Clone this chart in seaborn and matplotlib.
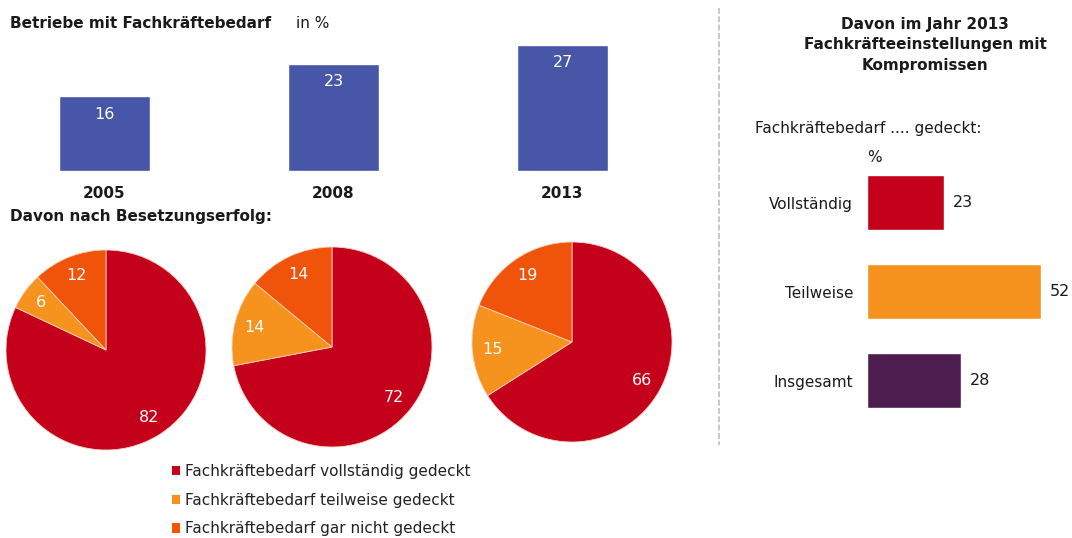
import matplotlib
matplotlib.use("Agg")
import matplotlib.pyplot as plt
import seaborn as sns
import pandas as pd
from matplotlib.patches import Patch
from matplotlib.lines import Line2D

# ---------------- data ----------------
years = ["2005", "2008", "2013"]
betriebe_pct = [16, 23, 27]

pie_labels = ["Fachkräftebedarf vollständig gedeckt",
              "Fachkräftebedarf teilweise gedeckt",
              "Fachkräftebedarf gar nicht gedeckt"]
pie_2005 = [82, 6, 12]
pie_2008 = [72, 14, 14]
pie_2013 = [66, 15, 19]

komp_cats = ["Vollständig", "Teilweise", "Insgesamt"]
komp_vals = [23, 52, 28]

# ---------------- style ----------------
BLUE = "#4756A6"
RED = "#C4001A"
ORANGE = "#F6921E"
DARKOR = "#F0530A"
PURPLE = "#4D1D50"
TXT = "#1a1a1a"
FS = 11

sns.set_theme(style="white")
plt.rcParams["font.family"] = ["DejaVu Sans"]
plt.rcParams["text.color"] = TXT

W, H = 1072, 538
fig = plt.figure(figsize=(W / 100, H / 100), dpi=100)


def px_axes(x0, y0, x1, y1):
    return fig.add_axes([x0 / W, 1 - y1 / H, (x1 - x0) / W, (y1 - y0) / H])


# ---------------- top bars ----------------
ax = px_axes(0, 30, 718, 171)
df_b = pd.DataFrame({"Jahr": years, "Wert": betriebe_pct})
sns.barplot(data=df_b, x="Jahr", y="Wert", color=BLUE, saturation=1,
            width=91 / 229, ax=ax)
ax.set_xlim(-104.5 / 229, (718 - 104.5) / 229)
ax.set_ylim(0, 141 / 4.67)
for s in ax.spines.values():
    s.set_visible(False)
ax.set_yticks([])
ax.set_xlabel("")
ax.set_ylabel("")
ax.tick_params(axis="x", length=0, pad=11, labelsize=FS, labelcolor=TXT)
for lab in ax.get_xticklabels():
    lab.set_fontweight("bold")
for p, v in zip(ax.patches, betriebe_pct):
    ax.annotate(f"{v}", (p.get_x() + p.get_width() / 2, p.get_height()),
                xytext=(0, -18), textcoords="offset pixels",
                ha="center", va="center", color="white", fontsize=11.5)

fig.text(10 / W, 1 - 23 / H, "Betriebe mit Fachkräftebedarf", fontsize=FS,
         fontweight="bold", va="center", ha="left")
fig.text(296 / W, 1 - 23 / H, "in %", fontsize=FS, va="center", ha="left")
fig.text(10 / W, 1 - 217 / H, "Davon nach Besetzungserfolg:", fontsize=FS,
         fontweight="bold", va="center", ha="left")

# ---------------- pies ----------------
pie_colors = [RED, ORANGE, DARKOR]
centers = [(106, 350), (332, 347), (572, 342)]
for (cx, cy), vals in zip(centers, [pie_2005, pie_2008, pie_2013]):
    r = 100
    pa = px_axes(cx - r, cy - r, cx + r, cy + r)
    pa.pie(vals, colors=pie_colors, startangle=90, counterclock=False,
           autopct="%.0f", pctdistance=0.8, radius=1,
           wedgeprops=dict(linewidth=0.6, edgecolor="#f3d0c0"),
           textprops=dict(color="white", fontsize=11.5))
    pa.set_xlim(-1.0, 1.0)
    pa.set_ylim(-1.0, 1.0)
    pa.axis("off")

handles = [Patch(facecolor=c, edgecolor="none") for c in pie_colors]
fig.legend(handles, pie_labels, loc="upper left",
           bbox_to_anchor=(172 / W, 1 - 464 / H), frameon=False,
           fontsize=FS, handlelength=0.55, handleheight=0.55,
           handletextpad=0.3, labelspacing=0.9, borderpad=0,
           borderaxespad=0, labelcolor="#222222")

# ---------------- divider ----------------
fig.add_artist(Line2D([718.5 / W, 718.5 / W], [1 - 8 / H, 1 - 445 / H],
                      transform=fig.transFigure, color="#bdbdbd",
                      linewidth=1.2, dashes=(3.5, 1.5)))

# ---------------- right panel ----------------
fig.text(925 / W, 1 - 45 / H,
         "Davon im Jahr 2013\nFachkräfteeinstellungen mit\nKompromissen",
         fontsize=FS, fontweight="bold", ha="center", va="center",
         linespacing=1.45)
fig.text(755 / W, 1 - 129 / H, "Fachkräftebedarf .... gedeckt:",
         fontsize=FS, ha="left", va="center")
fig.text(874 / W, 1 - 157 / H, "%", fontsize=FS, ha="center", va="center")

ax2 = px_axes(867, 158, 1072, 425)
df_k = pd.DataFrame({"Kat": komp_cats, "Wert": komp_vals})
sns.barplot(data=df_k, x="Wert", y="Kat", hue="Kat",
            palette=[RED, ORANGE, PURPLE], saturation=1, legend=False,
            orient="h", width=55 / 89, ax=ax2)
ax2.set_xlim(0, 205 / 3.35)
ax2.set_ylim(2.5, -0.5)
for s in ax2.spines.values():
    s.set_visible(False)
ax2.set_xticks([])
ax2.set_xlabel("")
ax2.set_ylabel("")
ax2.tick_params(axis="y", length=0, pad=10, labelsize=FS, labelcolor=TXT)
for cont in ax2.containers:
    ax2.bar_label(cont, fmt="%.0f", padding=6.5, fontsize=11.5, color=TXT)

fig.savefig("out.png", dpi=100)
